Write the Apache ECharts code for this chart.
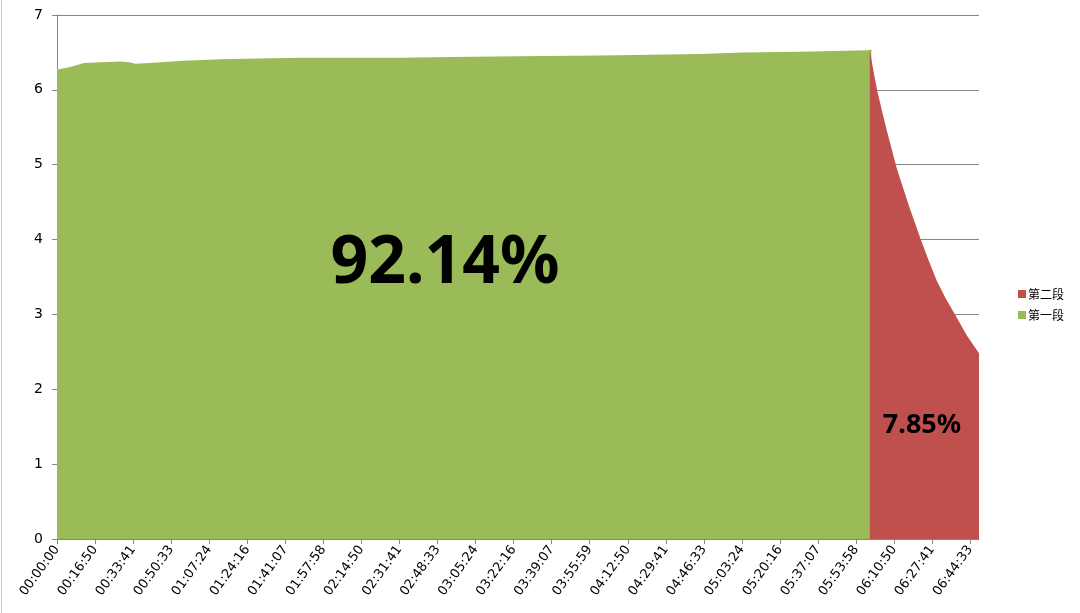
<!DOCTYPE html>
<html>
<head>
<meta charset="utf-8">
<script src="https://cdn.jsdelivr.net/npm/echarts@6/dist/echarts.min.js"></script>
<style>
  html, body { margin: 0; padding: 0; background: #fff; }
  #chart { width: 1080px; height: 613px; }
</style>
</head>
<body>
<div id="chart"></div>
<script>
// x values are in tick units (0 = 00:00:00, 1 = 00:16:50, ...)
const tickLabels = [
  '00:00:00', '00:16:50', '00:33:41', '00:50:33', '01:07:24', '01:24:16',
  '01:41:07', '01:57:58', '02:14:50', '02:31:41', '02:48:33', '03:05:24',
  '03:22:16', '03:39:07', '03:55:59', '04:12:50', '04:29:41', '04:46:33',
  '05:03:24', '05:20:16', '05:37:07', '05:53:58', '06:10:50', '06:27:41',
  '06:44:33'
]
const tickValues = tickLabels.map((_, i) => i)
const xMax = 24.23

// 第一段 (green)
const stage1X = [0, 0.37, 0.71, 1.15, 1.68, 1.89, 2.07, 2.73, 3.33, 4.30, 5.28, 6.40,
  9.03, 10.34, 12.10, 14.28, 15.59, 16.90, 18.03, 19.53, 21.31, 21.40]
const stage1Y = [6.27, 6.31, 6.36, 6.37, 6.38, 6.37, 6.35, 6.37, 6.39, 6.41, 6.42, 6.43,
  6.43, 6.44, 6.45, 6.46, 6.47, 6.48, 6.50, 6.51, 6.53, 6.54]

// 第二段 (red)
const stage2X = [21.36, 21.38, 21.45, 21.55, 21.68, 21.81, 22.07, 22.39, 22.70, 22.90,
  23.12, 23.36, 23.60, 23.91, 24.23]
const stage2Y = [6.54, 6.54, 6.27, 6.00, 5.72, 5.45, 4.95, 4.45, 4.00, 3.73,
  3.45, 3.21, 3.00, 2.72, 2.48]

// percentage labels
const shareLabels = ['92.14%', '7.85%']

const names = ['第一段', '第二段']
const colors = ['#9BBB59', '#C0504D']

const chart = echarts.init(document.getElementById('chart'))

const zip = (xs, ys) => xs.map((x, i) => [x, ys[i]])

const option = {
  animation: false,
  grid: { left: 57, right: 101, top: 15, bottom: 74 },
  legend: {
    data: [names[1], names[0]],
    orient: 'vertical',
    left: 1013,
    top: 283,
    itemWidth: 8,
    itemHeight: 8,
    itemGap: 9,
    icon: 'rect',
    textStyle: { fontFamily: 'Noto Sans CJK SC', fontSize: 12, color: '#000', padding: [0, 0, 0, -3] }
  },
  xAxis: {
    type: 'value',
    min: 0,
    max: xMax,
    splitLine: { show: false },
    axisLine: { lineStyle: { color: '#868686' } },
    axisTick: { customValues: tickValues, length: 5, lineStyle: { color: '#868686' } },
    axisLabel: {
      customValues: tickValues,
      rotate: 54,
      margin: 8,
      fontFamily: 'DejaVu Sans',
      fontSize: 13,
      color: '#000',
      formatter: v => tickLabels[Math.round(v)]
    }
  },
  yAxis: {
    type: 'value',
    min: 0,
    max: 7,
    interval: 1,
    axisLine: { show: true, lineStyle: { color: '#868686' } },
    axisTick: { show: true, length: 5, lineStyle: { color: '#868686' } },
    axisLabel: { fontFamily: 'DejaVu Sans', fontSize: 14, color: '#000', margin: 14 },
    splitLine: { lineStyle: { color: '#868686', width: 1 } }
  },
  series: [
    {
      name: names[0],
      type: 'line',
      data: zip(stage1X, stage1Y),
      symbol: 'none',
      color: colors[0],
      lineStyle: { width: 0 },
      areaStyle: { color: colors[0], opacity: 1 }
    },
    {
      name: names[1],
      type: 'line',
      data: zip(stage2X, stage2Y),
      symbol: 'none',
      color: colors[1],
      lineStyle: { width: 0 },
      areaStyle: { color: colors[1], opacity: 1 }
    }
  ],
  graphic: [
    {
      type: 'line',
      shape: { x1: 1.5, y1: 0, x2: 1.5, y2: 613 },
      style: { stroke: '#c8c8c8', lineWidth: 1 }
    },
    {
      type: 'text',
      z: 100,
      x: 445,
      y: 264,
      style: {
        text: shareLabels[0],
        fontFamily: 'Noto Sans',
        fontWeight: 'bold',
        fontSize: 66,
        fill: '#000',
        align: 'center',
        verticalAlign: 'middle'
      }
    },
    {
      type: 'text',
      z: 100,
      x: 922,
      y: 425,
      style: {
        text: shareLabels[1],
        fontFamily: 'Noto Sans',
        fontWeight: 'bold',
        fontSize: 27,
        fill: '#000',
        align: 'center',
        verticalAlign: 'middle'
      }
    }
  ]
}

chart.setOption(option)
window.addEventListener('resize', function () {
  chart.resize()
})
</script>
</body>
</html>
